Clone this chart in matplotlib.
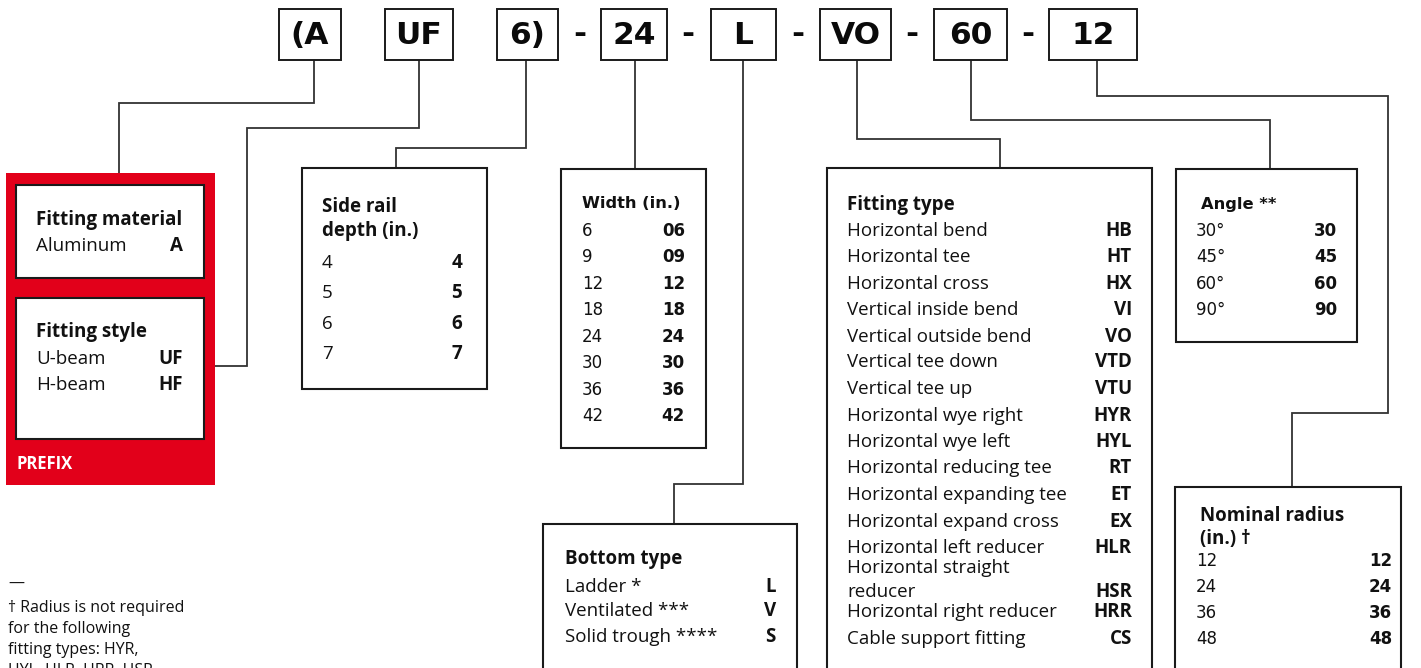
import matplotlib
matplotlib.use("Agg")
import matplotlib.pyplot as plt
from matplotlib.patches import Rectangle

# ---------------- data ----------------
code_parts = ["(A", "UF", "6)", "24", "L", "VO", "60", "12"]
code_separators = ["-", "-", "-", "-", "-"]

material_title = "Fitting material"
material_labels = ["Aluminum"]
material_codes = ["A"]

style_title = "Fitting style"
style_labels = ["U-beam", "H-beam"]
style_codes = ["UF", "HF"]

prefix_label = "PREFIX"

depth_title = ["Side rail", "depth (in.)"]
depth_labels = ["4", "5", "6", "7"]
depth_codes = ["4", "5", "6", "7"]

width_title = "Width (in.)"
width_labels = ["6", "9", "12", "18", "24", "30", "36", "42"]
width_codes = ["06", "09", "12", "18", "24", "30", "36", "42"]

bottom_title = "Bottom type"
bottom_labels = ["Ladder *", "Ventilated ***", "Solid trough ****"]
bottom_codes = ["L", "V", "S"]

fitting_title = "Fitting type"
fitting_labels = ["Horizontal bend", "Horizontal tee", "Horizontal cross",
                  "Vertical inside bend", "Vertical outside bend",
                  "Vertical tee down", "Vertical tee up",
                  "Horizontal wye right", "Horizontal wye left",
                  "Horizontal reducing tee", "Horizontal expanding tee",
                  "Horizontal expand cross", "Horizontal left reducer",
                  "Horizontal straight\nreducer", "Horizontal right reducer",
                  "Cable support fitting"]
fitting_codes = ["HB", "HT", "HX", "VI", "VO", "VTD", "VTU", "HYR", "HYL",
                 "RT", "ET", "EX", "HLR", "HSR", "HRR", "CS"]

angle_title = "Angle **"
angle_labels = ["30°", "45°", "60°", "90°"]
angle_codes = ["30", "45", "60", "90"]

radius_title = ["Nominal radius", "(in.) †"]
radius_labels = ["12", "24", "36", "48"]
radius_codes = ["12", "24", "36", "48"]

footnote_lines = ["—", "† Radius is not required", "for the following",
                  "fitting types: HYR,", "HYL, HLR, HRR, HSR"]

# ---------------- layout ----------------
W, H = 1421, 668
fig = plt.figure(figsize=(W / 100, H / 100), dpi=100)
ax = fig.add_axes([0, 0, 1, 1])
ax.set_xlim(0, W)
ax.set_ylim(H, 0)
ax.axis("off")

BODY = "Open Sans"
ALT = "DejaVu Sans"
FS = 13.5
AFS = 12
LINE_C = "#333333"
BOX_C = "#1a1a1a"
RED = "#e2001a"


def box(x0, y0, x1, y1, fc="white", ec=BOX_C, lw=1.5, z=2):
    ax.add_patch(Rectangle((x0, y0), x1 - x0, y1 - y0, facecolor=fc,
                           edgecolor=ec, linewidth=lw, zorder=z))


def wire(xs, ys):
    ax.plot(xs, ys, color=LINE_C, linewidth=1.3, zorder=1,
            solid_capstyle="butt", solid_joinstyle="miter")


def txt(x, y, s, bold=False, ha="left", fs=FS, family=BODY, color="#111111"):
    ax.text(x, y, s, ha=ha, va="center", fontsize=fs, family=family,
            fontweight="bold" if bold else "normal", color=color, zorder=5)


def rows(xl, xr, ys, labels, codes, family=BODY, fs=FS):
    for y, lab, code in zip(ys, labels, codes):
        if "\n" in lab:
            a, b = lab.split("\n")
            txt(xl, y - 24, a, family=family, fs=fs)
            txt(xl, y, b, family=family, fs=fs)
        else:
            txt(xl, y, lab, family=family, fs=fs)
        txt(xr, y, code, bold=True, ha="right", family=family, fs=fs)


# top code boxes
code_box_x = [(279, 341), (385, 453), (497, 558), (601, 667), (711, 776),
              (820, 891), (934, 1007), (1049, 1137)]
sep_x = [580, 688, 798, 912, 1028]
for (x0, x1), s in zip(code_box_x, code_parts):
    box(x0, 9, x1, 60, lw=1.4)
    ax.text((x0 + x1) / 2, 36, s, ha="center", va="center", fontsize=22.5,
            family=ALT, fontweight="bold", color="#0a0a0a", zorder=5)
for x, s in zip(sep_x, code_separators):
    ax.text(x, 35, s, ha="center", va="center", fontsize=22.5, family=ALT,
            fontweight="bold", color="#0a0a0a", zorder=5)

# connectors
wire([314, 314, 119, 119], [60, 103, 103, 185])
wire([419, 419, 247, 247, 204], [60, 128, 128, 366, 366])
wire([526, 526, 396, 396], [60, 148, 148, 168])
wire([635, 635], [60, 169])
wire([743, 743, 674, 674], [60, 484, 484, 524])
wire([857, 857, 1000, 1000], [60, 139, 139, 168])
wire([971, 971, 1270, 1270], [60, 120, 120, 169])
wire([1097, 1097, 1388, 1388, 1292, 1292], [60, 96, 96, 413, 413, 487])

# prefix block
box(6, 173, 215, 485, fc=RED, ec=RED, lw=0, z=1.5)
box(16, 185, 204, 278)
box(16, 298, 204, 439)
txt(16, 464, prefix_label, bold=True, color="white", fs=12)
txt(36, 220, material_title, bold=True)
rows(36, 183, [246], material_labels, material_codes)
txt(36, 332, style_title, bold=True)
rows(36, 183, [359, 385], style_labels, style_codes)

# side rail depth
box(302, 168, 487, 389)
txt(322, 207, depth_title[0], bold=True)
txt(322, 231, depth_title[1], bold=True)
rows(322, 462, [263, 293, 324, 354], depth_labels, depth_codes)

# width
box(561, 169, 706, 448)
txt(582, 204, width_title, bold=True, family=ALT, fs=11.7)
rows(582, 685, [231, 257, 284, 310, 337, 363, 390, 416], width_labels,
     width_codes, family=ALT, fs=AFS)

# bottom type
box(543, 524, 797, 690)
txt(565, 559, bottom_title, bold=True)
rows(565, 776, [587, 611, 637], bottom_labels, bottom_codes)

# fitting type
box(827, 168, 1152, 690)
txt(847, 205, fitting_title, bold=True)
fit_y = [231, 257, 284, 310, 337, 362, 389, 416, 442, 468, 495, 522, 548,
         592, 612, 639]
rows(847, 1132, fit_y, fitting_labels, fitting_codes)

# angle
box(1176, 169, 1357, 342)
txt(1201, 205, angle_title, bold=True, family=ALT, fs=11.7)
rows(1196, 1337, [231, 257, 284, 310], angle_labels, angle_codes,
     family=ALT, fs=AFS)

# nominal radius
box(1175, 487, 1401, 690)
txt(1200, 516, radius_title[0], bold=True)
txt(1200, 539, radius_title[1], bold=True)
rows(1196, 1392, [561, 587, 613, 639], radius_labels, radius_codes,
     family=ALT, fs=AFS)

# footnote
for y, s in zip([584, 608, 629, 650, 671], footnote_lines):
    txt(8, y, s, fs=11.5)

fig.savefig("out.png", dpi=100)
